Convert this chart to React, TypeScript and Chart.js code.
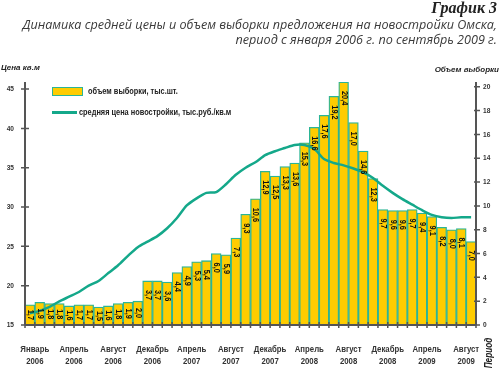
import React, { useEffect, useRef } from "react";
import { Chart, registerables } from "chart.js";

Chart.register(...registerables);

const SANS = "'Liberation Sans', Arial, sans-serif";
const NARROW_SCALE = 0.82;

const categories = [
  "01.2006", "02.2006", "03.2006", "04.2006", "05.2006", "06.2006", "07.2006", "08.2006", "09.2006", "10.2006", "11.2006", "12.2006",
  "01.2007", "02.2007", "03.2007", "04.2007", "05.2007", "06.2007", "07.2007", "08.2007", "09.2007", "10.2007", "11.2007", "12.2007",
  "01.2008", "02.2008", "03.2008", "04.2008", "05.2008", "06.2008", "07.2008", "08.2008", "09.2008", "10.2008", "11.2008", "12.2008",
  "01.2009", "02.2009", "03.2009", "04.2009", "05.2009", "06.2009", "07.2009", "08.2009", "09.2009", "10.2009",
];

// объем выборки, тыс.шт.
const volume = [
  1.7, 1.9, 1.8, 1.8, 1.6, 1.7, 1.7, 1.5, 1.6, 1.8, 1.9, 2.0,
  3.7, 3.7, 3.6, 4.4, 4.9, 5.3, 5.4, 6.0, 5.9, 7.3, 9.3, 10.6,
  12.9, 12.5, 13.3, 13.6, 15.3, 16.6, 17.6, 19.2, 20.4, 17.0, 14.6, 12.3,
  9.7, 9.6, 9.6, 9.7, 9.4, 9.1, 8.2, 8.0, 8.1, 7.0,
];

// средняя цена новостройки, тыс.руб./кв.м
const price = [
  16.5, 16.8, 17.3, 18.0, 18.6, 19.2, 20.0, 20.6, 21.6, 22.6, 23.8, 24.9,
  25.6, 26.3, 27.3, 28.6, 30.2, 31.1, 31.8, 31.9, 32.9, 34.1, 35.0, 35.7,
  36.6, 37.1, 37.5, 37.9, 37.9, 37.4, 36.1, 35.6, 35.3, 34.9, 34.4, 33.7,
  32.7, 31.8, 31.0, 30.3, 29.6, 29.0, 28.7, 28.6, 28.7, 28.7,
];

const xTickLabels = [
  ["Январь", "2006"], ["Апрель", "2006"], ["Август", "2006"], ["Декабрь", "2006"],
  ["Апрель", "2007"], ["Август", "2007"], ["Декабрь", "2007"],
  ["Апрель", "2008"], ["Август", "2008"], ["Декабрь", "2008"],
  ["Апрель", "2009"], ["Август", "2009"],
];

const LEFT_MIN = 15;
const LEFT_MAX = 45.9;
const LEFT_STEP = 5;
const RIGHT_MIN = 0;
const RIGHT_MAX = 20.4;
const RIGHT_STEP = 2;

const BAR_FILL = "#FFCC00";
const BAR_BORDER = "#2BB596";
const LINE_COLOR = "#14A88A";
const AXIS_COLOR = "#555555";
const TEXT_COLOR = "#333333";

function narrowText(
  ctx: CanvasRenderingContext2D,
  text: string,
  x: number,
  y: number,
  align: CanvasTextAlign,
  font: string,
  rotate = 0
) {
  ctx.save();
  ctx.font = font;
  ctx.textAlign = align;
  ctx.textBaseline = "middle";
  ctx.translate(x, y);
  if (rotate) ctx.rotate(rotate);
  ctx.scale(NARROW_SCALE, 1);
  ctx.fillText(text, 0, 0);
  ctx.restore();
}

const decorPlugin = {
  id: "decor",
  afterDatasetsDraw(chart: any) {
    const { ctx, chartArea: ca, scales } = chart;
    const meta = chart.getDatasetMeta(0);
    ctx.save();

    // bar value labels (rotated)
    const barFont = `bold 9px ${SANS}`;
    ctx.font = barFont;
    ctx.fillStyle = "#111";
    meta.data.forEach((bar: any, i: number) => {
      const txt = volume[i].toFixed(1).replace(".", ",");
      const w = ctx.measureText(txt).width * NARROW_SCALE;
      const h = bar.base - bar.y;
      const off = Math.min(9, Math.max(1, (h - w) / 2));
      narrowText(ctx, txt, bar.x + 0.5, bar.y + off, "left", barFont, Math.PI / 2);
    });

    // axes
    ctx.strokeStyle = AXIS_COLOR;
    ctx.lineWidth = 2;
    ctx.beginPath();
    ctx.moveTo(ca.left, ca.top);
    ctx.lineTo(ca.left, ca.bottom);
    ctx.moveTo(ca.right, ca.top);
    ctx.lineTo(ca.right, ca.bottom);
    ctx.moveTo(ca.left, ca.bottom);
    ctx.lineTo(ca.right, ca.bottom);
    ctx.stroke();

    ctx.lineWidth = 1.5;
    ctx.beginPath();
    scales.y.ticks.forEach((t: any) => {
      const y = scales.y.getPixelForValue(t.value);
      ctx.moveTo(ca.left - 4, y);
      ctx.lineTo(ca.left + 4, y);
    });
    scales.y1.ticks.forEach((t: any) => {
      const y = scales.y1.getPixelForValue(t.value);
      ctx.moveTo(ca.right - 2, y);
      ctx.lineTo(ca.right + 4, y);
    });
    const n = categories.length;
    const step = (ca.right - ca.left) / n;
    for (let i = 0; i <= n; i++) {
      const x = ca.left + i * step;
      ctx.moveTo(x, ca.bottom - 3);
      ctx.lineTo(x, ca.bottom + 3);
    }
    ctx.stroke();

    // tick labels
    ctx.fillStyle = TEXT_COLOR;
    const tickFont = `bold 8px ${SANS}`;
    scales.y.ticks.forEach((t: any) => {
      const y = scales.y.getPixelForValue(t.value);
      narrowText(ctx, String(t.value), ca.left - 11, y, "right", tickFont);
    });
    scales.y1.ticks.forEach((t: any) => {
      const y = scales.y1.getPixelForValue(t.value);
      narrowText(ctx, String(t.value), ca.right + 7, y, "left", tickFont);
    });
    const xFont = `bold 9.5px ${SANS}`;
    for (let i = 0; i < n; i += 4) {
      const lbl = xTickLabels[i / 4];
      if (!lbl) continue;
      const x = scales.x.getPixelForValue(i) + step / 2;
      narrowText(ctx, lbl[0], x, ca.bottom + 24, "center", xFont);
      narrowText(ctx, lbl[1], x, ca.bottom + 36, "center", xFont);
    }

    // "Период" rotated axis title
    ctx.fillStyle = "#222";
    narrowText(ctx, "Период", 489, 353, "center", `italic bold 10px ${SANS}`, -Math.PI / 2);
    ctx.restore();
  },
};

export default function App() {
  const ref = useRef<HTMLCanvasElement | null>(null);

  useEffect(() => {
    if (!ref.current) return;
    const chart = new Chart(ref.current, {
      type: "bar",
      data: {
        labels: categories,
        datasets: [
          {
            type: "bar",
            label: "объем выборки, тыс.шт.",
            data: volume,
            yAxisID: "y1",
            backgroundColor: BAR_FILL,
            borderColor: BAR_BORDER,
            borderWidth: 1.3,
            categoryPercentage: 1,
            barPercentage: 1,
            order: 2,
          },
          {
            type: "line",
            label: "средняя цена новостройки, тыс.руб./кв.м",
            data: price,
            yAxisID: "y",
            borderColor: LINE_COLOR,
            borderWidth: 2.5,
            pointRadius: 0,
            tension: 0.25,
            fill: false,
            order: 1,
          } as any,
        ],
      },
      options: {
        animation: false,
        responsive: false,
        maintainAspectRatio: false,
        layout: { padding: { top: 82, left: 0, right: 0, bottom: 0 } },
        plugins: {
          legend: { display: false },
          tooltip: { enabled: false },
          title: { display: false },
        },
        scales: {
          x: {
            type: "category",
            offset: true,
            grid: { display: false },
            border: { display: false },
            ticks: { display: false, autoSkip: false },
            afterFit: (s: any) => {
              s.height = 45;
            },
          },
          y: {
            position: "left",
            min: LEFT_MIN,
            max: LEFT_MAX,
            grid: { display: false },
            border: { display: false },
            ticks: { display: false, stepSize: LEFT_STEP, includeBounds: false },
            afterFit: (s: any) => {
              s.width = 25;
            },
          },
          y1: {
            position: "right",
            min: RIGHT_MIN,
            max: RIGHT_MAX,
            grid: { display: false },
            border: { display: false },
            ticks: { display: false, stepSize: RIGHT_STEP, includeBounds: false },
            afterFit: (s: any) => {
              s.width = 24;
            },
          },
        },
      },
      plugins: [decorPlugin],
    });
    return () => chart.destroy();
  }, []);

  const narrow = (origin: string): React.CSSProperties => ({
    position: "absolute",
    fontFamily: SANS,
    fontWeight: "bold",
    fontSize: 9,
    lineHeight: "10px",
    color: "#222",
    whiteSpace: "nowrap",
    transform: `scaleX(${NARROW_SCALE})`,
    transformOrigin: origin,
  });

  const axisTitle: React.CSSProperties = {
    position: "absolute",
    fontFamily: SANS,
    fontWeight: "bold",
    fontStyle: "italic",
    fontSize: 8,
    lineHeight: "9px",
    color: "#222",
    whiteSpace: "nowrap",
  };

  return (
    <div
      style={{
        position: "absolute",
        left: 0,
        top: 0,
        width: 500,
        height: 370,
        background: "#fff",
        overflow: "hidden",
      }}
    >
      <canvas
        ref={ref}
        width={500}
        height={370}
        style={{ position: "absolute", left: 0, top: 0, width: 500, height: 370 }}
      />
      <div
        style={{
          position: "absolute",
          right: 3,
          top: 0,
          fontFamily: "'Liberation Serif', 'DejaVu Serif', serif",
          fontStyle: "italic",
          fontWeight: "bold",
          fontSize: 16,
          lineHeight: "16px",
          color: "#222",
          whiteSpace: "nowrap",
        }}
      >
        График 3
      </div>
      <div
        style={{
          position: "absolute",
          right: 3,
          top: 17,
          fontFamily: "'Open Sans', 'DejaVu Sans', sans-serif",
          fontStyle: "italic",
          fontSize: 12.6,
          lineHeight: "15px",
          color: "#3a3a3a",
          textAlign: "right",
          whiteSpace: "nowrap",
        }}
      >
        Динамика средней цены и объем выборки предложения на новостройки Омска,
        <br />
        период с января 2006 г. по сентябрь 2009 г.
      </div>
      <div style={{ ...axisTitle, left: 1, top: 63 }}>Цена кв.м</div>
      <div style={{ ...axisTitle, right: 1, top: 65 }}>Объем выборки</div>
      <div
        style={{
          position: "absolute",
          left: 52,
          top: 87,
          width: 31,
          height: 9,
          boxSizing: "border-box",
          background: BAR_FILL,
          border: `1.5px solid ${BAR_BORDER}`,
        }}
      />
      <div style={{ ...narrow("left center"), left: 88, top: 86 }}>объем выборки, тыс.шт.</div>
      <div
        style={{
          position: "absolute",
          left: 52,
          top: 111,
          width: 25,
          height: 2.5,
          background: LINE_COLOR,
        }}
      />
      <div style={{ ...narrow("left center"), left: 79, top: 107 }}>
        средняя цена новостройки, тыс.руб./кв.м
      </div>
    </div>
  );
}
